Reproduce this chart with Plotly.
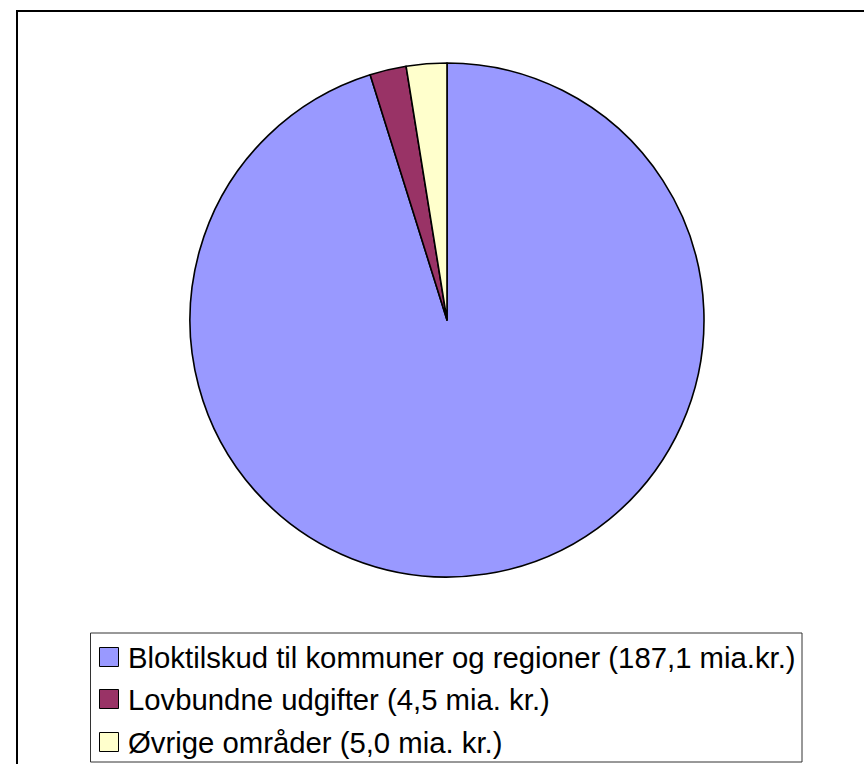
import plotly.graph_objects as go

# Data
labels = [
    "Bloktilskud til kommuner og regioner (187,1 mia.kr.)",
    "Lovbundne udgifter (4,5 mia. kr.)",
    "Øvrige områder (5,0 mia. kr.)",
]
values = [187.1, 4.5, 5.0]
colors = ["#9999FF", "#993366", "#FFFFCC"]

W, H = 864, 764


def px_x(x):
    return x / W


def px_y(y):
    return 1 - y / H


fig = go.Figure(
    go.Pie(
        labels=labels,
        values=values,
        marker=dict(colors=colors, line=dict(color="black", width=1.6)),
        sort=False,
        direction="clockwise",
        rotation=0,
        textinfo="none",
        showlegend=False,
        domain=dict(x=[px_x(190), px_x(704)], y=[px_y(577), px_y(63)]),
    )
)

shapes = [
    # outer chart border
    dict(type="rect", xref="paper", yref="paper",
         x0=px_x(17), x1=px_x(H + 200), y0=px_y(H + 50), y1=px_y(11),
         line=dict(color="black", width=2), fillcolor="rgba(0,0,0,0)", layer="above"),
    # legend box
    dict(type="rect", xref="paper", yref="paper",
         x0=px_x(90.5), x1=px_x(802), y0=px_y(762), y1=px_y(633),
         line=dict(color="#333333", width=1), fillcolor="white", layer="above"),
]

annotations = []
row_centers = [657, 699, 742]
for lab, col, yc in zip(labels, colors, row_centers):
    shapes.append(dict(type="rect", xref="paper", yref="paper",
                       x0=px_x(99.5), x1=px_x(118.5), y0=px_y(yc + 9.5), y1=px_y(yc - 9.5),
                       line=dict(color="black", width=1), fillcolor=col, layer="above"))
    annotations.append(dict(xref="paper", yref="paper", x=px_x(126), y=px_y(yc),
                            xanchor="left", yanchor="middle", showarrow=False,
                            text=lab, font=dict(size=29.3, color="black")))

fig.update_layout(
    width=W, height=H,
    margin=dict(l=0, r=0, t=0, b=0),
    paper_bgcolor="white",
    plot_bgcolor="white",
    font=dict(family="Arial, Liberation Sans, sans-serif", color="black"),
    shapes=shapes,
    annotations=annotations,
    showlegend=False,
)

fig.write_html("out.html",
               config={"displayModeBar": False},
               post_script="document.body.style.margin='0';document.body.style.overflow='hidden';")
